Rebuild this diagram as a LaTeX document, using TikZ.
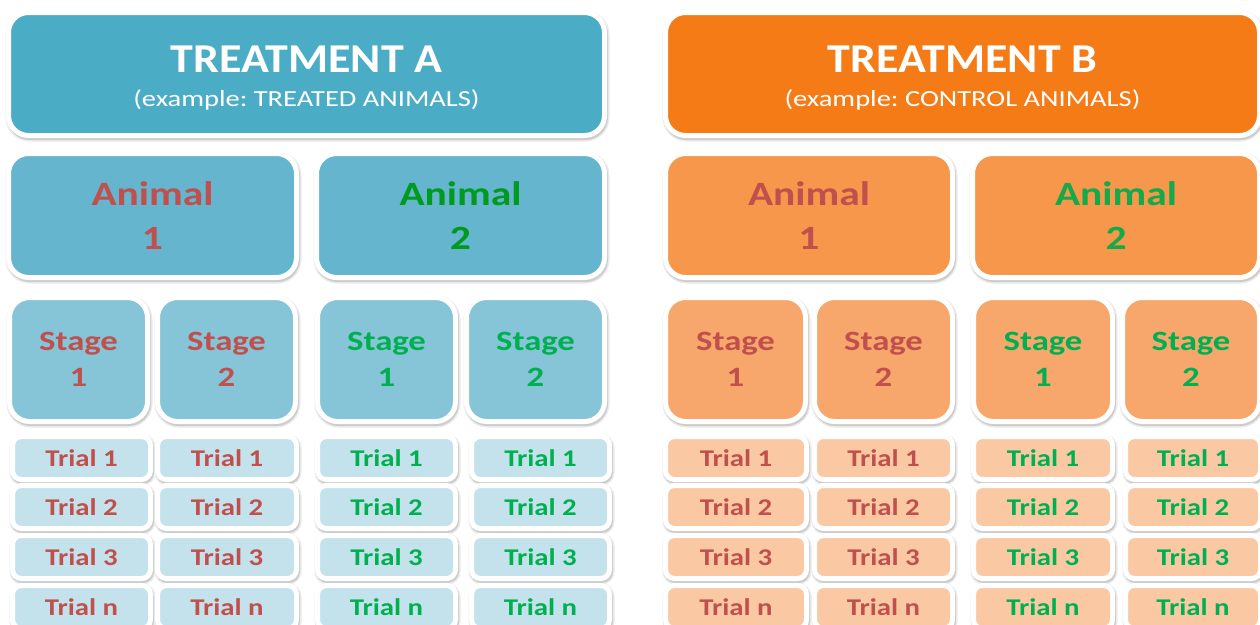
\documentclass[tikz,border=0pt]{standalone}
\usepackage{fontspec}
\setmainfont{Carlito}
\usepackage{graphicx}
\frenchspacing
\definecolor{tA}{HTML}{4BACC6}
\definecolor{aA}{HTML}{64B5CD}
\definecolor{sA}{HTML}{86C5D8}
\definecolor{rA}{HTML}{C3E2EB}
\definecolor{tB}{HTML}{F47B15}
\definecolor{aB}{HTML}{F6974B}
\definecolor{sB}{HTML}{F7A76C}
\definecolor{rB}{HTML}{FAC9A3}
\definecolor{txR}{HTML}{C0504D}
\definecolor{txG}{HTML}{00B050}
\definecolor{txGa}{HTML}{009A1E}
\definecolor{txGb}{HTML}{14AA4A}
\newcommand\myhs[2]{\scalebox{#1}[1]{#2}}
\newcommand\anlab[1]{\myhs{1.22}{Animal}\\\myhs{1.22}{#1}}
\newcommand\stlab[1]{\myhs{1.24}{Stage}\\\myhs{1.24}{#1}}
\newcommand\trlab[1]{\myhs{1.2}{Trial #1}}
\tikzset{
  card/.style={draw=white, line width=5pt, rounded corners=20pt, inner sep=0pt,
    align=center,
    preaction={draw=black!8, line width=8pt, transform canvas={xshift=1pt,yshift=-2pt}},
    preaction={draw=black!20, line width=5pt, transform canvas={xshift=1pt,yshift=-2pt}}},
  head/.style={card, minimum height=123pt},
  animal/.style={card, minimum width=288pt, minimum height=124pt,
    font=\fontsize{34}{44}\selectfont\bfseries},
  stagebox/.style={card, minimum height=124pt,
    font=\fontsize{28}{36}\selectfont\bfseries},
  trialbox/.style={card, rounded corners=9pt, minimum height=43pt,
    font=\fontsize{24}{28}\selectfont\bfseries},
  ttl/.style={anchor=base, text=white, font=\fontsize{41}{41}\selectfont\bfseries},
  sub/.style={anchor=base, text=white, font=\fontsize{23}{23}\selectfont},
}
\begin{document}
\begin{tikzpicture}[x=1pt,y=-1pt]
\useasboundingbox (0,0) rectangle (1260,624);
\clip (0,0) rectangle (1260,624);
\fill[white] (0,0) rectangle (1260,624);
% headers
\node[head, fill=tA, minimum width=596pt] (ta) at (306.5,74) {};
\node[head, fill=tB, minimum width=594pt] (tb) at (962.5,74) {};
\node[ttl] (ta-t) at (306.5,72) {\myhs{1.12}{TREATMENT A}};
\node[sub] (ta-s) at (306.5,106) {\myhs{1.24}{(example: TREATED ANIMALS)}};
\node[ttl] (tb-t) at (962.5,72) {\myhs{1.12}{TREATMENT B}};
\node[sub] (tb-s) at (962.5,106) {\myhs{1.24}{(example: CONTROL ANIMALS)}};
% animals
\node[animal, fill=aA, text=txR] (aA1) at (152.5,215.5) {\anlab{1}};
\node[animal, fill=aA, text=txGa] (aA2) at (460.5,215.5) {\anlab{2}};
\node[animal, fill=aB, text=txR, minimum width=287pt] (aB1) at (809,215.5) {\anlab{1}};
\node[animal, fill=aB, text=txGb, minimum width=287pt] (aB2) at (1116,215.5) {\anlab{2}};
% stages
\node[stagebox, fill=sA, text=txR, minimum width=138pt] (sA1) at (78.5,359.5) {\stlab{1}};
\node[stagebox, fill=sA, text=txR, minimum width=138pt] (sA2) at (226.5,359.5) {\stlab{2}};
\node[stagebox, fill=sA, text=txG, minimum width=138pt] (sA3) at (386.5,359.5) {\stlab{1}};
\node[stagebox, fill=sA, text=txG, minimum width=138pt] (sA4) at (535.5,359.5) {\stlab{2}};
\node[stagebox, fill=sB, text=txR, minimum width=140pt] (sB1) at (735.5,359.5) {\stlab{1}};
\node[stagebox, fill=sB, text=txR, minimum width=138pt] (sB2) at (883.5,359.5) {\stlab{2}};
\node[stagebox, fill=sB, text=txG, minimum width=139pt] (sB3) at (1043,359.5) {\stlab{1}};
\node[stagebox, fill=sB, text=txG, minimum width=137pt] (sB4) at (1191,359.5) {\stlab{2}};
% trials
\foreach \lab/\yy/\k in {1/458/1, 2/507/2, 3/557/3, n/607/n} {
  \node[trialbox, fill=rA, text=txR, minimum width=138pt] (rA1-\k) at (81.5,\yy) {\trlab{\lab}};
  \node[trialbox, fill=rA, text=txR, minimum width=139pt] (rA2-\k) at (227,\yy) {\trlab{\lab}};
  \node[trialbox, fill=rA, text=txG, minimum width=138pt] (rA3-\k) at (386.5,\yy) {\trlab{\lab}};
  \node[trialbox, fill=rA, text=txG, minimum width=138pt] (rA4-\k) at (540.5,\yy) {\trlab{\lab}};
  \node[trialbox, fill=rB, text=txR, minimum width=141pt] (rB1-\k) at (736,\yy) {\trlab{\lab}};
  \node[trialbox, fill=rB, text=txR, minimum width=138pt] (rB2-\k) at (883.5,\yy) {\trlab{\lab}};
  \node[trialbox, fill=rB, text=txG, minimum width=139pt] (rB3-\k) at (1043,\yy) {\trlab{\lab}};
  \node[trialbox, fill=rB, text=txG, minimum width=135pt] (rB4-\k) at (1193,\yy) {\trlab{\lab}};
}
\end{tikzpicture}
\end{document}
